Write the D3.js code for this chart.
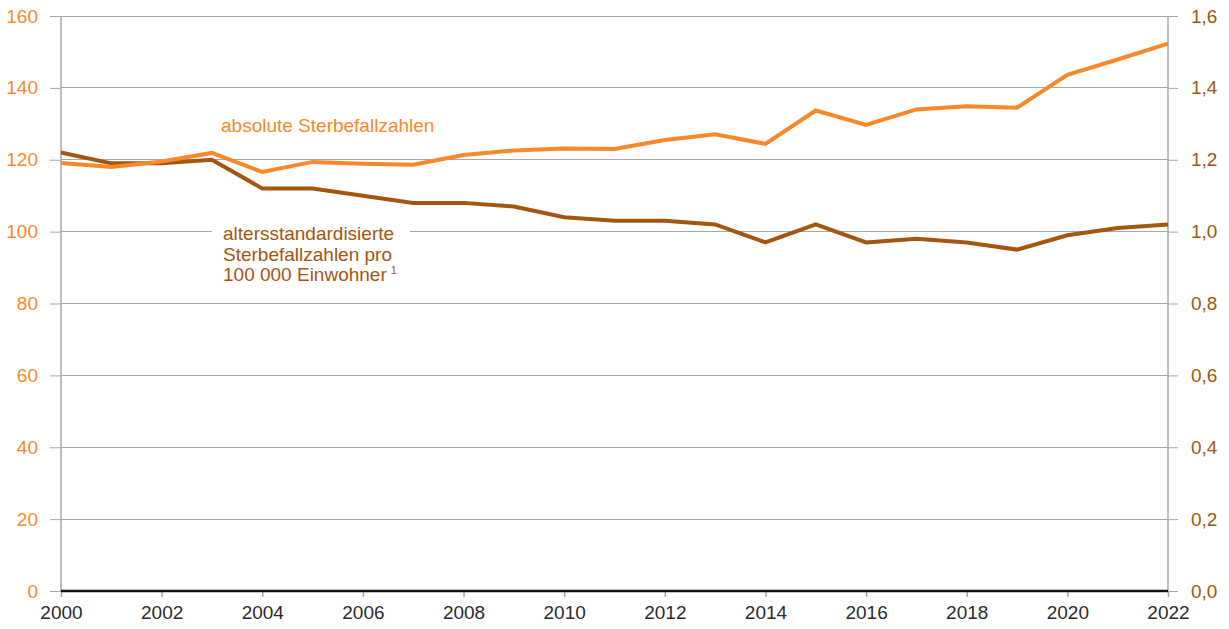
<!DOCTYPE html>
<html>
<head>
<meta charset="utf-8">
<script src="https://cdn.jsdelivr.net/npm/d3@7"></script>
<style>
  html, body { margin: 0; padding: 0; background: #fff; }
  svg { display: block; font-family: "Liberation Sans", Arial, sans-serif; }
</style>
</head>
<body>
<svg id="chart" width="1229" height="629"></svg>
<script>
// ---- data ----
const years = [2000, 2001, 2002, 2003, 2004, 2005, 2006, 2007, 2008, 2009, 2010, 2011,
               2012, 2013, 2014, 2015, 2016, 2017, 2018, 2019, 2020, 2021, 2022];
const absoluteDeaths = [119.1, 118.0, 119.5, 121.9, 116.6, 119.4, 118.9, 118.6, 121.3, 122.6, 123.1, 123.0,
                        125.5, 127.1, 124.4, 133.7, 129.7, 134.0, 134.9, 134.5, 143.6, 147.9, 152.3];
const ageStandardized = [1.22, 1.19, 1.19, 1.20, 1.12, 1.12, 1.10, 1.08, 1.08, 1.07, 1.04, 1.03,
                         1.03, 1.02, 0.97, 1.02, 0.97, 0.98, 0.97, 0.95, 0.99, 1.01, 1.02];
const leftTicks = [0, 20, 40, 60, 80, 100, 120, 140, 160];
const rightTicks = [0, 0.2, 0.4, 0.6, 0.8, 1.0, 1.2, 1.4, 1.6];
const xTicks = [2000, 2002, 2004, 2006, 2008, 2010, 2012, 2014, 2016, 2018, 2020, 2022];
const labelAbsolute = "absolute Sterbefallzahlen";
const labelStd = ["altersstandardisierte", "Sterbefallzahlen pro", "100 000 Einwohner"];
const labelStdNote = "1";

// ---- layout ----
const svg = d3.select("#chart");
const L = 61, R = 1168, T = 16, B = 591;
const orange = "#f7892b", brown = "#a2560f", grid = "#a6a6a6";

const x = d3.scaleLinear().domain([2000, 2022]).range([L, R]);
const yL = d3.scaleLinear().domain([0, 160]).range([B, T]);
const yR = d3.scaleLinear().domain([0, 1.6]).range([B, T]);
const deFmt = d3.formatLocale({decimal: ",", thousands: ".", grouping: [3], currency: ["", " €"]}).format(".1f");

// gridlines + left ticks
const gLeft = svg.append("g").attr("transform", `translate(${L},0)`)
  .call(d3.axisLeft(yL).tickValues(leftTicks).tickSize(11).tickPadding(12).tickFormat(d3.format("d")));
gLeft.select(".domain").remove();
gLeft.selectAll(".tick line").attr("stroke", grid).attr("x2", -11);
gLeft.selectAll(".tick text").attr("fill", orange).style("font-size", "19px").style("font-family", "\"Liberation Sans\", Arial, sans-serif");

svg.append("g").selectAll("line").data(leftTicks.filter(d => d > 0)).join("line")
  .attr("x1", L).attr("x2", R).attr("y1", d => yL(d)).attr("y2", d => yL(d))
  .attr("stroke", grid).attr("stroke-width", 1).attr("shape-rendering", "crispEdges");

const gRight = svg.append("g").attr("transform", `translate(${R},0)`)
  .call(d3.axisRight(yR).tickValues(rightTicks).tickSize(10).tickPadding(13).tickFormat(deFmt));
gRight.select(".domain").remove();
gRight.selectAll(".tick line").attr("stroke", grid);
gRight.selectAll(".tick text").attr("fill", brown).style("font-size", "19px").style("font-family", "\"Liberation Sans\", Arial, sans-serif");

// vertical frame lines
svg.append("line").attr("x1", L).attr("x2", L).attr("y1", T).attr("y2", B).attr("stroke", grid).attr("stroke-width", 1.5);
svg.append("line").attr("x1", R).attr("x2", R).attr("y1", T).attr("y2", B).attr("stroke", grid).attr("stroke-width", 1.5);

// bottom axis
const gX = svg.append("g").attr("transform", `translate(0,${B})`)
  .call(d3.axisBottom(x).tickValues(xTicks).tickSize(6).tickPadding(9).tickFormat(d3.format("d")));
gX.select(".domain").remove();
gX.selectAll(".tick line").attr("stroke", grid).attr("stroke-width", 1.5);
gX.selectAll(".tick text").attr("fill", "#2b2b2b").style("font-size", "19px")
  .style("font-family", "\"Liberation Sans Narrow\", \"Liberation Sans\", Arial, sans-serif");
svg.append("line").attr("x1", L).attr("x2", R).attr("y1", B).attr("y2", B).attr("stroke", "#111").attr("stroke-width", 2.5);

// label for age-standardized (with white background)
const lab = svg.append("g");
lab.append("rect").attr("x", 212).attr("y", 222).attr("width", 198).attr("height", 66).attr("fill", "#fff");
const t2 = lab.append("text").attr("x", 223).attr("fill", brown).style("font-size", "19px");
labelStd.forEach((s, i) => {
  const ts = t2.append("tspan").attr("x", 223).attr("y", 240 + i * 20.5).text(s);
});
t2.append("tspan").attr("dx", 4).attr("dy", -7).style("font-size", "11px").text(labelStdNote);

// lines
const lineAbs = d3.line().x((d, i) => x(years[i])).y(d => yL(d));
const lineStd = d3.line().x((d, i) => x(years[i])).y(d => yR(d));
svg.append("path").datum(ageStandardized).attr("d", lineStd).attr("fill", "none")
  .attr("stroke", brown).attr("stroke-width", 4).attr("stroke-linejoin", "miter");
svg.append("path").datum(absoluteDeaths).attr("d", lineAbs).attr("fill", "none")
  .attr("stroke", orange).attr("stroke-width", 4).attr("stroke-linejoin", "miter");

svg.append("text").attr("x", 221).attr("y", 132).attr("fill", orange).style("font-size", "19px").text(labelAbsolute);
</script>
</body>
</html>
